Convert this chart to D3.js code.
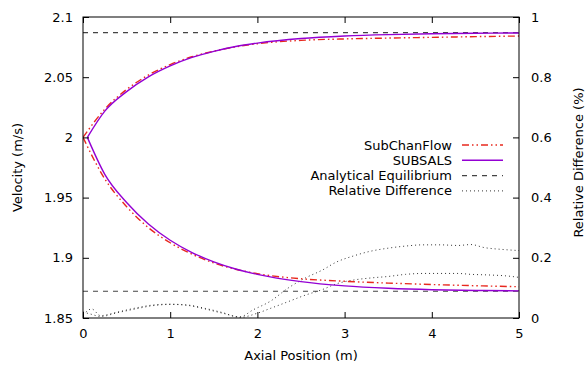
<!DOCTYPE html>
<html>
<head>
<meta charset="utf-8">
<script src="https://cdn.jsdelivr.net/npm/d3@7"></script>
<style>
  body { margin: 0; background: #fff; }
  svg { display: block; font-family: 'DejaVu Sans', sans-serif; }
</style>
</head>
<body>
<svg id="chart" width="587" height="365"></svg>
<script>
// axial positions (m)
const scfX = [0, 0.25, 0.5, 0.75, 1, 1.25, 1.5, 1.75, 2, 2.5, 3, 3.5, 4, 4.5, 5];
const subsalsX = [0.05, 0.25, 0.5, 0.75, 1, 1.25, 1.5, 1.75, 2, 2.5, 3, 3.5, 4, 4.5, 5];

// velocities (m/s)
const scfUpper = [2.0, 2.0235, 2.0398, 2.0518, 2.0605, 2.0670, 2.0716, 2.0752, 2.0778, 2.0806, 2.0818, 2.0825, 2.0831, 2.0837, 2.0842];
const scfLower = [2.0, 1.9655, 1.9425, 1.925, 1.9125, 1.903, 1.8957, 1.8905, 1.8868, 1.8826, 1.8805, 1.879, 1.8778, 1.8768, 1.876];
const subsalsUpper = [2.0, 2.0218, 2.038, 2.0503, 2.0594, 2.0664, 2.0715, 2.0755, 2.0783, 2.0821, 2.0842, 2.0854, 2.0861, 2.0865, 2.0867];
const subsalsLower = [2.0, 1.9693, 1.9459, 1.9281, 1.9146, 1.9044, 1.8966, 1.8907, 1.8862, 1.8802, 1.8767, 1.8747, 1.8735, 1.8729, 1.8725];
const equilibrium = [2.087, 1.8722];

// relative difference (%)
const rdAX = [0, 0.1, 0.2, 0.4, 0.6, 0.8, 1.0, 1.2, 1.4, 1.6, 1.8, 1.95, 2.15, 2.35, 2.55, 2.75, 2.9, 3.1, 3.3, 3.5, 3.7, 3.9, 4.1, 4.3, 4.45, 4.6, 4.8, 5];
const rdA = [0.01, 0.03, 0.008, 0.02, 0.033, 0.043, 0.046, 0.042, 0.03, 0.016, 0.004, 0.027, 0.056, 0.099, 0.133, 0.16, 0.185, 0.206, 0.222, 0.232, 0.239, 0.243, 0.243, 0.241, 0.244, 0.234, 0.228, 0.224];
const rdBX = [0, 0.1, 0.2, 0.4, 0.6, 0.8, 1.0, 1.2, 1.4, 1.6, 1.8, 2.0, 2.15, 2.35, 2.55, 2.75, 2.9, 3.1, 3.3, 3.5, 3.7, 3.9, 4.1, 4.3, 4.45, 4.65, 4.85, 5];
const rdB = [0.02, 0.012, 0.005, 0.018, 0.03, 0.041, 0.045, 0.043, 0.032, 0.018, 0.002, 0.016, 0.032, 0.054, 0.076, 0.095, 0.113, 0.126, 0.133, 0.138, 0.145, 0.148, 0.148, 0.148, 0.145, 0.143, 0.14, 0.135];

const xTicks = [0, 1, 2, 3, 4, 5];
const yTicks = [1.85, 1.9, 1.95, 2, 2.05, 2.1];
const y2Ticks = [0, 0.2, 0.4, 0.6, 0.8, 1];
const legendLabels = ['SubChanFlow', 'SUBSALS', 'Analytical Equilibrium', 'Relative Difference'];

const RED = '#e8281e';
const VIOLET = '#9400d3';
const GREY = '#444';

const svg = d3.select('#chart');
const margin = { top: 17, right: 68, bottom: 47, left: 83 };
const width = 587 - margin.left - margin.right;
const height = 365 - margin.top - margin.bottom;

const x = d3.scaleLinear().domain([0, 5]).range([margin.left, margin.left + width]);
const y = d3.scaleLinear().domain([1.85, 2.1]).range([margin.top + height, margin.top]);
const y2 = d3.scaleLinear().domain([0, 1]).range([margin.top + height, margin.top]);

const fontSize = '13px';

// clip the plot area
svg.append('clipPath').attr('id', 'plot')
  .append('rect')
  .attr('x', margin.left).attr('y', margin.top)
  .attr('width', width).attr('height', height);

const plot = svg.append('g').attr('clip-path', 'url(#plot)');

const lineV = (xs) => d3.line()
  .x((d, i) => x(xs[i]))
  .y(d => y(d))
  .curve(d3.curveMonotoneX);
const lineR = (xs) => d3.line()
  .x((d, i) => x(xs[i]))
  .y(d => y2(d))
  .curve(d3.curveMonotoneX);

// equilibrium lines
equilibrium.forEach(v => {
  plot.append('path')
    .attr('d', d3.line()([[x(0), y(v)], [x(5), y(v)]]))
    .attr('stroke', GREY)
    .attr('stroke-width', 1.1)
    .attr('stroke-dasharray', '5,5')
    .attr('fill', 'none');
});

// relative difference
[[rdAX, rdA], [rdBX, rdB]].forEach(([xs, vs]) => {
  plot.append('path')
    .attr('d', lineR(xs)(vs))
    .attr('stroke', '#333')
    .attr('stroke-width', 1)
    .attr('stroke-dasharray', '1,3')
    .attr('fill', 'none');
});

// SubChanFlow
[scfUpper, scfLower].forEach(vs => {
  plot.append('path')
    .attr('d', lineV(scfX)(vs))
    .attr('stroke', RED)
    .attr('stroke-width', 1.4)
    .attr('stroke-dasharray', '7,3,1.5,3,1.5,3')
    .attr('fill', 'none');
});

// SUBSALS
[subsalsUpper, subsalsLower].forEach(vs => {
  plot.append('path')
    .attr('d', lineV(subsalsX)(vs))
    .attr('stroke', VIOLET)
    .attr('stroke-width', 1.4)
    .attr('fill', 'none');
});

// axes (inward ticks, gnuplot style)
const tickLen = 6;
const axes = svg.append('g');

const axBottom = axes.append('g')
  .attr('transform', `translate(0,${margin.top + height})`)
  .call(d3.axisBottom(x).tickValues(xTicks).tickSizeInner(-tickLen).tickSizeOuter(0).tickPadding(11).tickFormat(d3.format('d')));
const axTop = axes.append('g')
  .attr('transform', `translate(0,${margin.top})`)
  .call(d3.axisTop(x).tickValues(xTicks).tickSizeInner(-tickLen).tickSizeOuter(0).tickFormat(''));
const axLeft = axes.append('g')
  .attr('transform', `translate(${margin.left},0)`)
  .call(d3.axisLeft(y).tickValues(yTicks).tickSizeInner(-tickLen).tickSizeOuter(0).tickPadding(10).tickFormat(d => String(+d.toFixed(2))));
const axRight = axes.append('g')
  .attr('transform', `translate(${margin.left + width},0)`)
  .call(d3.axisRight(y2).tickValues(y2Ticks).tickSizeInner(-tickLen).tickSizeOuter(0).tickPadding(12).tickFormat(d => String(+d.toFixed(1))));

[axBottom, axTop, axLeft, axRight].forEach(g => {
  g.select('.domain').remove();
  g.selectAll('line').attr('stroke', '#000');
  g.selectAll('text')
    .attr('fill', '#000')
    .style('font-size', fontSize)
    .style('font-family', "'DejaVu Sans', sans-serif");
});

// frame
svg.append('rect')
  .attr('x', margin.left).attr('y', margin.top)
  .attr('width', width).attr('height', height)
  .attr('fill', 'none')
  .attr('stroke', '#000')
  .attr('stroke-width', 1);

// axis titles
svg.append('text')
  .attr('x', x(2.5)).attr('y', 360)
  .attr('text-anchor', 'middle')
  .style('font-size', fontSize)
  .text('Axial Position (m)');

svg.append('text')
  .attr('transform', `translate(22,${margin.top + height / 2}) rotate(-90)`)
  .attr('text-anchor', 'middle')
  .style('font-size', fontSize)
  .text('Velocity (m/s)');

svg.append('text')
  .attr('transform', `translate(583,${margin.top + height / 2 - 5}) rotate(-90)`)
  .attr('text-anchor', 'middle')
  .style('font-size', fontSize)
  .text('Relative Difference (%)');

// legend
const legendStyles = [
  { stroke: RED, dash: '7,3,1.5,3,1.5,3', w: 1.4 },
  { stroke: VIOLET, dash: null, w: 1.4 },
  { stroke: GREY, dash: '5,5', w: 1.1 },
  { stroke: '#333', dash: '1,3', w: 1 },
];
const legend = svg.append('g');
legendLabels.forEach((label, i) => {
  const cy = 145 + i * 15.3;
  legend.append('text')
    .attr('x', 452).attr('y', cy)
    .attr('dy', '0.35em')
    .attr('text-anchor', 'end')
    .style('font-size', fontSize)
    .text(label);
  legend.append('line')
    .attr('x1', 462).attr('x2', 503)
    .attr('y1', cy).attr('y2', cy)
    .attr('stroke', legendStyles[i].stroke)
    .attr('stroke-width', legendStyles[i].w)
    .attr('stroke-dasharray', legendStyles[i].dash);
});
</script>
</body>
</html>
